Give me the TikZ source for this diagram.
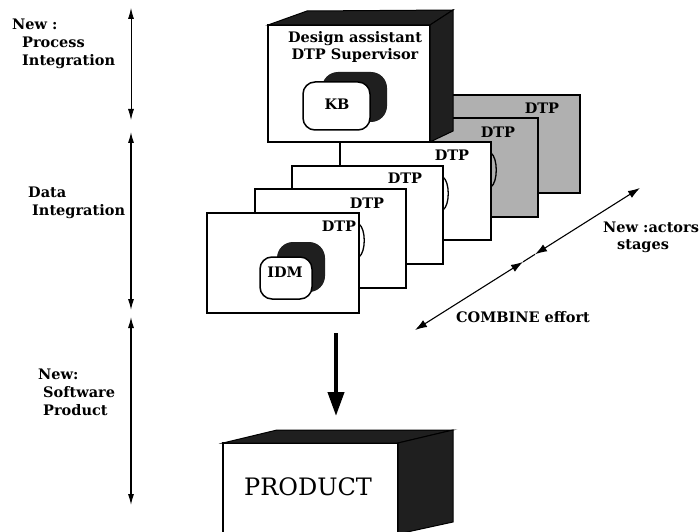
\documentclass[tikz,border=0pt]{standalone}
\usepackage{fontspec}
\setmainfont{DejaVu Serif}
\usetikzlibrary{arrows.meta}
\begin{document}
\begin{tikzpicture}[x=1pt,y=-1pt,
  card/.style={draw=black,line width=1.5pt,fill=white},
  graycard/.style={draw=black,line width=1.5pt,fill=gray!62},
  lbl/.style={font=\fontsize{14.5}{18}\selectfont\bfseries,inner sep=0pt,align=left},
  tag/.style={font=\fontsize{14.5}{16.5}\selectfont\bfseries,inner sep=0pt},
  span/.style={line width=1.1pt,{Latex[length=11pt,width=6pt]}-{Latex[length=11pt,width=6pt]}},
  axis/.style={line width=1.1pt,{Latex[length=12pt,width=8pt]}-{Latex[length=12pt,width=8pt]}},
  solidface/.style={fill=black!88,draw=black,line width=1pt},
  frontface/.style={fill=white,draw=black,line width=1.5pt},
  blob/.style={draw=black,line width=1.5pt,fill=white,rounded corners=12pt},
  blobshade/.style={fill=black!88,rounded corners=16pt},
  bump/.style={draw=black,line width=1.3pt}
]
\useasboundingbox (0,0) rectangle (699,532);

% ---- phase arrows on the left
\coordinate (a0) at (131,8);
\coordinate (a1) at (131,120);
\coordinate (b0) at (131,132);
\coordinate (b1) at (131,310);
\coordinate (c0) at (131,317);
\coordinate (c1) at (131,505);
\draw[span,line width=0.8pt] (a0) -- (a1);
\draw[span] (b0) -- (b1);
\draw[span] (c0) -- (c1);

\node[lbl,anchor=north west] (lprocess) at (12,19) {New :\\\hspace*{10pt}Process\\\hspace*{10pt}Integration};
\node[lbl,anchor=north west] (ldata) at (28,187) {Data\\\hspace*{4pt}Integration};
\node[lbl,anchor=north west] (lsoft) at (38,369) {New:\\\hspace*{5pt}Software\\\hspace*{5pt}Product};

% ---- stack of DTP cards, back to front
\draw[graycard] (425,95) rectangle (580,193);
\node[tag] (dtp1) at (542,108) {DTP};
\draw[graycard] (410,118) rectangle (538,217);
\node[tag] (dtp2) at (498,132) {DTP};
\draw[card] (340,142) rectangle (491,240);
\node[tag] (dtp3) at (452,155) {DTP};
\draw[bump] (491,153) .. controls (498,158) and (498,182) .. (491,187);

% ---- supervisor box
\draw[frontface] (268,25) rectangle (430,142);
\draw[solidface] (268,25) -- (307,11) -- (453,10) -- (430,25) -- cycle;
\draw[solidface] (430,25) -- (453,10) -- (453,131) -- (430,142) -- cycle;
\node[tag,align=center] (sup) at (355,47) {Design assistant\\DTP Supervisor};
\fill[blobshade] (322,72) rectangle (387,122);
\draw[blob] (303,82) rectangle (370,130);
\node[tag] (kb) at (337,104) {KB};

% ---- front cards
\draw[card] (292,166) rectangle (443,264);
\node[tag] (dtp4) at (405,178) {DTP};
\draw[bump] (443,177) .. controls (450,182) and (450,205) .. (443,210);
\draw[card] (255,189) rectangle (406,288);
\node[tag] (dtp5) at (367,203) {DTP};
\draw[card] (207,213) rectangle (359,313);
\node[tag] (dtp6) at (339,226) {DTP};
\draw[bump] (359,224) .. controls (366,229) and (366,252) .. (359,257);
\fill[blobshade] (277,242) rectangle (325,292);
\draw[blob] (260,257) rectangle (312,299);
\node[tag] (idm) at (285,272) {IDM};

% ---- actors / stages axis
\coordinate (d0) at (415,330);
\coordinate (d1) at (523,261.9);
\coordinate (d2) at (535,254.3);
\coordinate (d3) at (640,188);
\draw[axis] (d0) -- (d1);
\draw[line width=1.1pt] (d1) -- (d2);
\draw[axis] (d2) -- (d3);
\node[lbl,anchor=north west,font=\fontsize{14.5}{17}\selectfont\bfseries] (lactors) at (603,222) {New :actors\\\hspace*{14pt}stages};
\node[tag] (lcombine) at (523,317) {COMBINE effort};

% ---- result arrow and product
\coordinate (r0) at (336,333);
\coordinate (r1) at (336,416);
\draw[line width=4pt,-{Triangle[length=24pt,width=16pt]}] (r0) -- (r1);

\draw[frontface] (223,443) rectangle (398,545);
\draw[solidface] (223,443) -- (277,430) -- (453,430) -- (398,443) -- cycle;
\draw[solidface] (398,443) -- (453,430) -- (453,522) -- (398,534) -- cycle;
\node[font=\fontsize{24}{26}\selectfont,inner sep=0pt] (prod) at (308,487) {PRODUCT};
\end{tikzpicture}
\end{document}
